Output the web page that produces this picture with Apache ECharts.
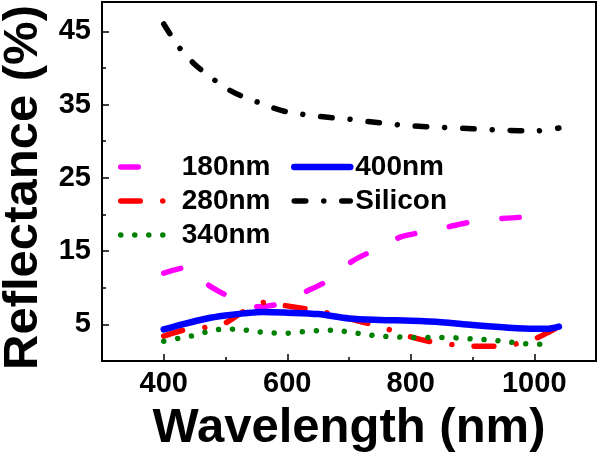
<!DOCTYPE html>
<html>
<head>
<meta charset="utf-8">
<script src="https://cdn.jsdelivr.net/npm/echarts@6/dist/echarts.min.js"></script>
<style>html,body{margin:0;padding:0;background:#fff}#c{width:600px;height:459px}</style>
</head>
<body>
<div id="c"></div>
<script>
// ---- data ----
const wl180 = [400, 440, 472, 505, 530, 556, 590, 631, 662, 705, 737, 783, 820, 860, 900, 956, 1000];
const r180  = [12.0, 12.8, 10.4, 8.8, 7.7, 7.4, 7.9, 9.5, 10.8, 13.6, 15.0, 16.9, 17.6, 18.3, 19.0, 19.5, 19.7];

const wl280 = [400, 440, 470, 500, 530, 564, 594, 637, 668, 700, 740, 768, 800, 840, 872, 902, 946, 974, 1003, 1020, 1040];
const r280  = [3.4, 4.4, 4.6, 5.2, 6.8, 8.0, 7.6, 7.0, 6.5, 5.8, 4.9, 4.2, 3.3, 2.5, 2.2, 2.0, 2.0, 2.4, 3.1, 3.8, 4.7];

const wl340 = [400, 425, 450, 475, 500, 525, 550, 575, 600, 625, 650, 675, 700, 725, 750, 775, 800, 850, 875, 900, 925, 950, 975, 1000, 1025];
const r340  = [2.7, 3.1, 3.5, 4.1, 4.35, 4.3, 4.0, 3.85, 3.8, 4.0, 4.15, 4.2, 3.95, 3.65, 3.4, 3.3, 3.2, 3.2, 3.15, 3.0, 2.9, 2.7, 2.45, 2.3, 2.3];

const wl400 = [400, 430, 470, 500, 530, 560, 600, 650, 700, 750, 800, 850, 900, 950, 1000, 1020, 1040];
const r400  = [4.3, 5.0, 5.8, 6.2, 6.5, 6.7, 6.6, 6.4, 5.8, 5.6, 5.5, 5.3, 4.9, 4.6, 4.4, 4.4, 4.7];

const wlSi = [400, 425, 450, 475, 500, 525, 550, 575, 600, 650, 700, 750, 800, 850, 900, 950, 1000, 1040];
const rSi  = [46.0, 42.8, 40.5, 38.8, 37.3, 36.2, 35.4, 34.6, 34.0, 33.4, 33.0, 32.5, 32.1, 31.9, 31.7, 31.5, 31.4, 31.8];

const xTickLabels = [400, 600, 800, 1000];
const xMinorTicks = [500, 700, 900];
const yTickLabels = [5, 15, 25, 35, 45];
const yMinorTicks = [10, 20, 30, 40];

const names = ['180nm', '280nm', '340nm', '400nm', 'Silicon'];

// ---- chart ----
const FONT = "'Liberation Sans', Arial, sans-serif";
const pair = (xs, ys) => xs.map((x, i) => [x, ys[i]]);

const styles = {
  '180nm':  {color: '#ff00ff', width: 5.5, type: [17.5, 35.5]},
  '280nm':  {color: '#ff0000', width: 5.5, type: [19.5, 22.5, 0.01, 22.5]},
  '340nm':  {color: '#008000', width: 5.5, type: [0.01, 14]},
  '400nm':  {color: '#0000ff', width: 6.5, type: 'solid'},
  'Silicon':{color: '#000000', width: 5.5, type: [11.5, 18, 0.01, 18]}
};

const chart = echarts.init(document.getElementById('c'), null, {renderer: 'canvas'});

const lineSeries = (name, xs, ys) => ({
  name, type: 'line', data: pair(xs, ys), smooth: 0.3, symbol: 'none',
  xAxisIndex: 0, yAxisIndex: 0,
  lineStyle: Object.assign({cap: 'round'}, styles[name]),
  itemStyle: {color: styles[name].color},
  emphasis: {disabled: true}
});

const legendItem = (name) => ({
  name,
  lineStyle: Object.assign({cap: 'round'}, styles[name]),
  itemStyle: {opacity: 0}
});

const legendText = {fontSize: 28, fontWeight: 'bold', color: '#000', fontFamily: FONT};

chart.setOption({
  animation: false,
  grid: {left: 102, right: 4, top: 2, bottom: 98, show: true, borderColor: '#000', borderWidth: 2,
         containLabel: false, outerBoundsMode: 'none'},
  xAxis: [{
    type: 'value', min: 300, max: 1100, interval: 100,
    name: 'Wavelength (nm)', nameLocation: 'middle', nameGap: 43,
    nameTextStyle: {fontSize: 49, fontWeight: 'bold', color: '#000', fontFamily: FONT},
    axisLine: {show: true, lineStyle: {color: '#000', width: 2}},
    axisTick: {show: true, inside: true, length: 7, lineStyle: {color: '#000', width: 1.5}, customValues: xTickLabels},
    axisLabel: {fontSize: 29, fontWeight: 'bold', color: '#000', fontFamily: FONT, margin: 8,
                customValues: xTickLabels, formatter: v => String(v)},
    splitLine: {show: false}
  }, {
    type: 'value', min: 300, max: 1100, interval: 100, position: 'bottom',
    axisLine: {show: false},
    axisTick: {show: true, inside: true, length: 4, lineStyle: {color: '#000', width: 1.5}, customValues: xMinorTicks},
    axisLabel: {show: false}, splitLine: {show: false}
  }],
  yAxis: [{
    type: 'value', min: 0, max: 49, interval: 5,
    name: 'Reflectance (%)', nameLocation: 'middle', nameGap: 54, nameRotate: 90,
    nameTextStyle: {fontSize: 49, fontWeight: 'bold', color: '#000', fontFamily: FONT, padding: [0, 12, 0, 0]},
    axisLine: {show: true, lineStyle: {color: '#000', width: 2}},
    axisTick: {show: true, inside: true, length: 7, lineStyle: {color: '#000', width: 1.5}, customValues: yTickLabels},
    axisLabel: {fontSize: 29, fontWeight: 'bold', color: '#000', fontFamily: FONT, margin: 11,
                customValues: yTickLabels, formatter: v => String(v)},
    splitLine: {show: false}
  }, {
    type: 'value', min: 0, max: 49, interval: 5, position: 'left',
    axisLine: {show: false},
    axisTick: {show: true, inside: true, length: 4, lineStyle: {color: '#000', width: 1.5}, customValues: yMinorTicks},
    axisLabel: {show: false}, splitLine: {show: false}
  }],
  legend: [{
    data: [legendItem(names[0]), legendItem(names[1]), legendItem(names[2])],
    orient: 'vertical', left: 118, top: 153, padding: 0,
    itemWidth: 48, itemHeight: 14, itemGap: 6, selectedMode: false,
    textStyle: Object.assign({padding: [0, 0, 0, 8]}, legendText)
  }, {
    data: [legendItem(names[3]), legendItem(names[4])],
    orient: 'vertical', left: 291, top: 153, padding: 0,
    itemWidth: 56, itemHeight: 14, itemGap: 6, selectedMode: false,
    textStyle: legendText
  }],
  series: names.map((n, i) => lineSeries(n, [wl180, wl280, wl340, wl400, wlSi][i], [r180, r280, r340, r400, rSi][i]))
});
</script>
</body>
</html>
